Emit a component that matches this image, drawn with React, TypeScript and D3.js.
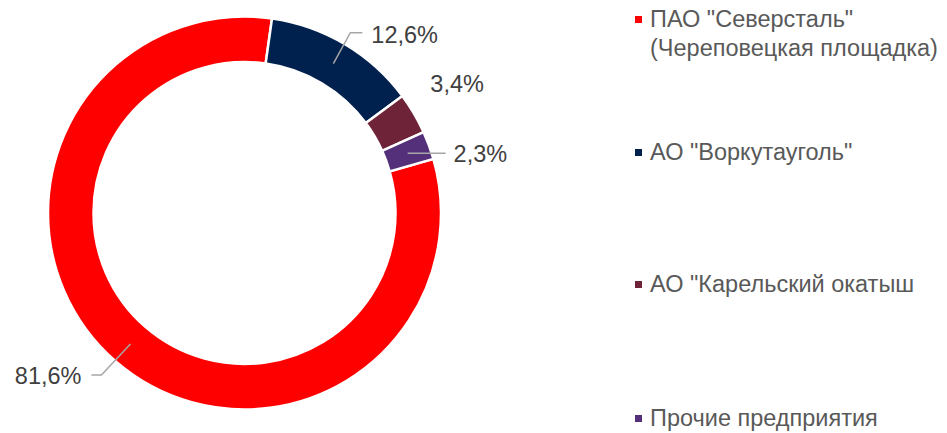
import React from "react";
import * as d3 from "d3";

// shares by enterprise, %
const names = [
  'ПАО "Северсталь"',
  'АО "Воркутауголь"',
  'АО "Карельский окатыш',
  "Прочие предприятия",
];
const legendLines = [
  ['ПАО "Северсталь"', "(Череповецкая площадка)"],
  ['АО "Воркутауголь"'],
  ['АО "Карельский окатыш'],
  ["Прочие предприятия"],
];
const values = [81.6, 12.6, 3.4, 2.3];
const labels = ["81,6%", "12,6%", "3,4%", "2,3%"];
const colors = ["#ff0000", "#00204e", "#6f2339", "#54307b"];

const width = 947;
const height = 433;
const cx = 244.5;
const cy = 213;
const outerR = 196.5;
const innerR = 151;

// label placement relative to slice centroid: elbow offset, line end offset, text anchor
const labelLayout = [
  { elbow: [-29, 31], end: [-39, 31], text: [-49, 40], anchor: "end", line: true },
  { elbow: [17, -31], end: [29, -31], text: [38, -21], anchor: "start", line: true },
  { elbow: [0, 0], end: [0, 0], text: [36, -33], anchor: "start", line: false },
  { elbow: [38, 0], end: [38, 0], text: [46, 9], anchor: "start", line: true },
];

const legendY = [27, 160, 292, 426];

export default function App() {
  const pie = d3
    .pie<number>()
    .sort(null)
    .startAngle((74 * Math.PI) / 180)
    .endAngle((74 * Math.PI) / 180 + 2 * Math.PI);
  const arcs = pie(values);
  const arc = d3.arc<d3.PieArcDatum<number>>().innerRadius(innerR).outerRadius(outerR);
  const mid = d3
    .arc<d3.PieArcDatum<number>>()
    .innerRadius((innerR + outerR) / 2)
    .outerRadius((innerR + outerR) / 2);

  const font = "'Liberation Sans', Arial, sans-serif";

  return (
    <svg
      width={width}
      height={height}
      style={{ position: "absolute", left: 0, top: 0, fontFamily: font }}
    >
      <g transform={`translate(${cx},${cy})`}>
        {arcs.map((a, i) => (
          <path key={i} d={arc(a) || ""} fill={colors[i]} stroke="#fff" strokeWidth={2.5} />
        ))}
        {arcs.map((a, i) => {
          const [x, y] = mid.centroid(a);
          const l = labelLayout[i];
          return (
            <g key={"l" + i}>
              {l.line && (
                <polyline
                  points={`${x},${y} ${x + l.elbow[0]},${y + l.elbow[1]} ${x + l.end[0]},${y + l.end[1]}`}
                  fill="none"
                  stroke="#a6a6a6"
                  strokeWidth={1.5}
                />
              )}
              <text
                x={x + l.text[0]}
                y={y + l.text[1]}
                textAnchor={l.anchor}
                fontSize={23.5}
                fill="#404040"
              >
                {labels[i]}
              </text>
            </g>
          );
        })}
      </g>
      <g>
        {names.map((n, i) => (
          <g key={n}>
            <rect x={635} y={legendY[i] - 11} width={7} height={7} fill={colors[i]} />
            {legendLines[i].map((t, j) => (
              <text key={j} x={650} y={legendY[i] + j * 29} fontSize={23.5} fill="#595959">
                {t}
              </text>
            ))}
          </g>
        ))}
      </g>
    </svg>
  );
}
